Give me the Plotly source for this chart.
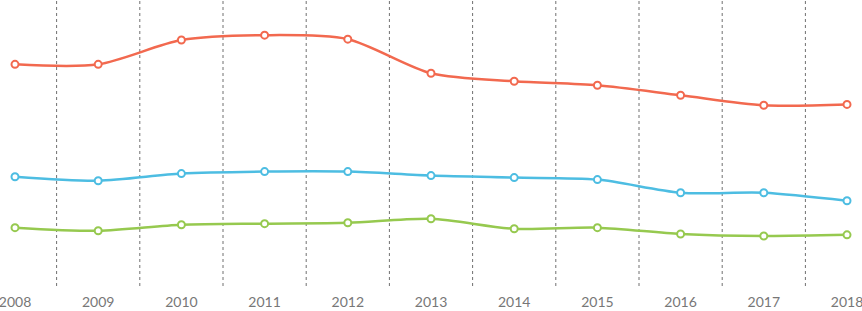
import plotly.graph_objects as go

years = [2008, 2009, 2010, 2011, 2012, 2013, 2014, 2015, 2016, 2017, 2018]
series_red = [77.5, 77.5, 86.0, 87.7, 86.3, 74.4, 71.6, 70.2, 66.7, 63.2, 63.5]
series_blue = [38.2, 36.8, 39.3, 40.0, 40.0, 38.6, 37.9, 37.2, 32.6, 32.6, 29.8]
series_green = [20.4, 19.3, 21.4, 21.8, 22.1, 23.5, 20.0, 20.4, 18.2, 17.5, 17.9]
tick_labels = [str(y) for y in years]

colors = {"red": "#f2694f", "blue": "#4dbde2", "green": "#96c94f"}

fig = go.Figure()
for name, vals in [("red", series_red), ("blue", series_blue), ("green", series_green)]:
    fig.add_trace(go.Scatter(
        x=years, y=vals, mode="lines+markers",
        line=dict(color=colors[name], width=2.5, shape="spline", smoothing=0.8),
        marker=dict(symbol="circle", size=7, color="white",
                    line=dict(color=colors[name], width=2)),
        showlegend=False, hoverinfo="x+y", cliponaxis=False,
    ))

# dashed separators between years
for a, b in zip(years[:-1], years[1:]):
    fig.add_shape(type="line", xref="x", yref="paper",
                  x0=(a + b) / 2, x1=(a + b) / 2, y0=0, y1=1,
                  line=dict(color="#707070", width=1, dash="3px,3px"), layer="below")

fig.update_layout(
    width=862, height=311,
    margin=dict(l=15, r=15, t=0, b=25, pad=0, autoexpand=False),
    paper_bgcolor="white", plot_bgcolor="white",
    font=dict(family="Lato, 'Open Sans', sans-serif", color="#777777", size=14),
    xaxis=dict(range=[2008, 2018], tickmode="array", tickvals=years, ticktext=tick_labels,
               showgrid=False, zeroline=False, showline=False, ticks="",
               automargin=False, ticklabeloverflow="allow",
               ticklabelstandoff=6, tickfont=dict(size=14, color="#777777")),
    yaxis=dict(range=[0, 100], visible=False, showgrid=False, zeroline=False, automargin=False),
)

fig.write_html("out.html", config={"displayModeBar": False},
               post_script="document.body.style.margin='0';document.body.style.overflow='hidden';")
